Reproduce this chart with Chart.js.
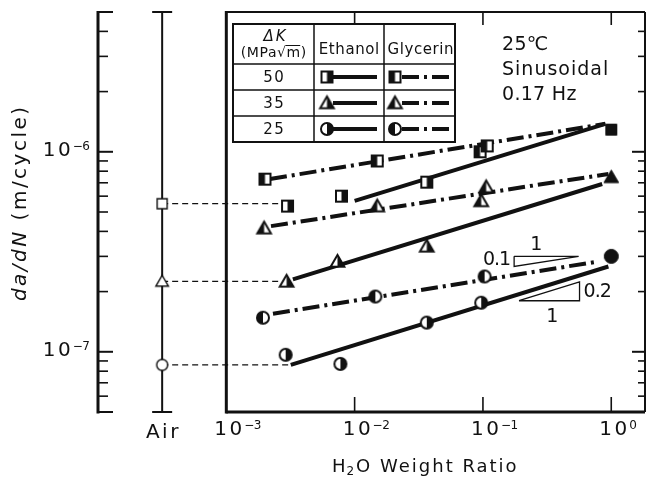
<!DOCTYPE html>
<html>
<head>
<meta charset="utf-8">
<script src="https://cdn.jsdelivr.net/npm/chart.js@4.4.1/dist/chart.umd.min.js"></script>
<style>
  html, body { margin: 0; padding: 0; overflow: hidden; background: #fff; }
  canvas { display: block; }
</style>
</head>
<body>
<canvas id="c" width="652" height="477" style="width:652px;height:477px"></canvas>
<script>
// ---- axis ticks -------------------------------------------------------
const xTickValues = [1e-3, 1e-2, 1e-1, 1e0];
const xTickExponents = ['−3', '−2', '−1', '0'];
const airPosition = Math.pow(10, -3.5);          // column for the reference test in air
const airLabel = 'Air';
const yMajorValues = [1e-6, 1e-7];
const yMajorExponents = ['−6', '−7'];
const yMinorValues = [6e-8, 7e-8, 8e-8, 9e-8, 2e-7, 3e-7, 4e-7, 5e-7, 6e-7, 7e-7, 8e-7, 9e-7, 2e-6, 3e-6, 4e-6];
const yEnds = [5e-8, 5e-6];

// ---- measured crack growth rates (m/cycle) vs H2O weight ratio ---------
const deltaKLabels = ['50', '35', '25'];
const markerShapes = ['square', 'triangle', 'circle'];

const ethanol50X = [3.0e-3, 7.9e-3, 3.65e-2];
const ethanol50Y = [5.35e-7, 6.0e-7, 7.05e-7];
const glycerin50X = [2.0e-3, 1.5e-2, 9.5e-2, 1.08e-1];
const glycerin50Y = [7.3e-7, 9.0e-7, 1.0e-6, 1.07e-6];

const ethanol35X = [2.95e-3, 7.35e-3, 3.65e-2];
const ethanol35Y = [2.25e-7, 2.83e-7, 3.37e-7];
const glycerin35X = [1.97e-3, 1.5e-2, 1.06e-1, 9.7e-2];
const glycerin35Y = [4.15e-7, 5.35e-7, 6.67e-7, 5.68e-7];

const ethanol25X = [2.9e-3, 7.75e-3, 3.65e-2, 9.7e-2];
const ethanol25Y = [9.66e-8, 8.7e-8, 1.4e-7, 1.76e-7];
const glycerin25X = [1.93e-3, 1.45e-2, 1.03e-1];
const glycerin25Y = [1.48e-7, 1.89e-7, 2.38e-7];

// pure water (ratio = 1), common end point of both solvents
const waterX = [1, 1, 1];
const waterY = [1.29e-6, 7.48e-7, 3.0e-7];

// tests in air, linked to the low-water end of the ethanol series
const airY = [5.5e-7, 2.25e-7, 8.6e-8];
const airLinkEndX = [2.7e-3, 2.7e-3, 3.18e-3];

// fitted lines (start / end), slope ~0.2 for ethanol and ~0.1 for glycerin
const ethanolFitX = [[1.0e-2, 0.90], [3.3e-3, 0.85], [3.18e-3, 0.95]];
const ethanolFitY = [[5.68e-7, 1.38e-6], [2.3e-7, 6.9e-7], [8.6e-8, 2.67e-7]];
const glycerinFitX = [[2.19e-3, 0.90], [2.23e-3, 0.95], [2.31e-3, 0.795]];
const glycerinFitY = [[7.31e-7, 1.38e-6], [4.25e-7, 7.75e-7], [1.55e-7, 2.83e-7]];

// slope guide triangles: slope, left x, right x, reference y
const slopeValues = [0.1, 0.2];
const slopeLeftX = [0.175, 0.191];
const slopeRightX = [0.557, 0.566];
const slopeBaseY = [3.0e-7, 1.8e-7];

const conditions = ['25℃', 'Sinusoidal', '0.17 Hz'];

// ---- drawing helpers ----------------------------------------------------
const INK = '#111';
const FONT = '"DejaVu Sans", "Liberation Sans", sans-serif';
const GLY_DASH = [17, 5, 3, 5];

function pts(xs, ys) { return xs.map((x, i) => ({ x, y: ys[i] })); }

function makeMarker(shape, fill, size, lw) {
  const c = document.createElement('canvas');
  const S = Math.ceil(size + lw + 4);
  c.width = c.height = S;
  const g = c.getContext('2d');
  const cx = S / 2, cy = S / 2, h = size / 2;
  g.lineWidth = lw; g.strokeStyle = INK; g.lineJoin = 'miter';
  g.beginPath();
  if (shape === 'square') g.rect(cx - h, cy - h, size, size);
  else if (shape === 'circle') g.arc(cx, cy, h, 0, Math.PI * 2);
  else { g.moveTo(cx, cy - h); g.lineTo(cx + h * 1.05, cy + h * 0.8); g.lineTo(cx - h * 1.05, cy + h * 0.8); g.closePath(); }
  g.fillStyle = '#fff'; g.fill();
  g.fillStyle = INK;
  if (fill === 'full') g.fill();
  else if (fill === 'left' || fill === 'right') {
    g.save(); g.clip();
    g.fillRect(fill === 'left' ? 0 : cx, 0, cx, S);
    g.restore();
  }
  g.stroke();
  return c;
}

const SIZES = { square: 11, triangle: 13, circle: 12 };
const FULL = { square: 11, triangle: 14, circle: 14 };
const ethanolMarkers = markerShapes.map(s => makeMarker(s, 'right', SIZES[s], 2));
const glycerinMarkers = markerShapes.map(s => makeMarker(s, 'left', SIZES[s], 2));
const waterMarkers = markerShapes.map(s => makeMarker(s, 'full', FULL[s], 1));
const airMarkers = markerShapes.map(s => makeMarker(s, 'none', SIZES[s] - 1, 1.4));

function put(ctx, s, x, y, size, o = {}) {
  ctx.save();
  ctx.font = `${o.italic ? 'italic ' : ''}${size}px ${FONT}`;
  ctx.letterSpacing = `${o.sp || 0}px`;
  ctx.textBaseline = 'middle';
  ctx.textAlign = 'left';
  ctx.fillStyle = INK;
  const w = ctx.measureText(s).width - (o.sp || 0);
  const left = o.align === 'center' ? x - w / 2 : o.align === 'right' ? x - w : x;
  if (!o.measureOnly) ctx.fillText(s, left, y);
  ctx.restore();
  return w;
}
function measure(ctx, s, size, o = {}) { return put(ctx, s, 0, 0, size, Object.assign({}, o, { measureOnly: true })); }

function powerLabel(ctx, exp, x, y, align) {
  const wb = measure(ctx, '10', 20, { sp: 2.5 });
  const we = measure(ctx, exp, 12, { sp: -0.5 });
  const left = align === 'center' ? x - wb / 2 : x - wb - 2 - we;
  put(ctx, '10', left, y, 20, { sp: 2.5 });
  put(ctx, exp, left + wb + 2, y - 4, 12, { sp: -0.5 });
}

function seg(ctx, x1, y1, x2, y2, w) {
  ctx.lineWidth = w;
  ctx.beginPath(); ctx.moveTo(x1, y1); ctx.lineTo(x2, y2); ctx.stroke();
}

// ---- datasets -----------------------------------------------------------
const datasets = [];
const lineBase = { showLine: true, pointRadius: 0, borderColor: INK, fill: false, order: 3 };
for (let i = 0; i < 3; i++) {
  datasets.push(Object.assign({ label: `Ethanol fit ${deltaKLabels[i]}`, data: pts(ethanolFitX[i], ethanolFitY[i]), borderWidth: 4 }, lineBase));
  datasets.push(Object.assign({ label: `Glycerin fit ${deltaKLabels[i]}`, data: pts(glycerinFitX[i], glycerinFitY[i]), borderWidth: 4, borderDash: GLY_DASH }, lineBase));
  datasets.push(Object.assign({ label: `Air link ${deltaKLabels[i]}`, data: pts([airPosition, airLinkEndX[i]], [airY[i], airY[i]]), borderWidth: 1.2, borderDash: [6, 4] }, lineBase));
}
for (let i = 0; i < 2; i++) {
  const yFar = slopeBaseY[i] * Math.pow(slopeRightX[i] / slopeLeftX[i], slopeValues[i]);
  const tri = i === 0
    ? pts([slopeLeftX[i], slopeRightX[i], slopeLeftX[i], slopeLeftX[i]], [slopeBaseY[i], slopeBaseY[i], slopeBaseY[i] / Math.pow(slopeRightX[i] / slopeLeftX[i], slopeValues[i]), slopeBaseY[i]])
    : pts([slopeLeftX[i], slopeRightX[i], slopeRightX[i], slopeLeftX[i]], [slopeBaseY[i], slopeBaseY[i], yFar, slopeBaseY[i]]);
  datasets.push(Object.assign({ label: `Slope ${slopeValues[i]}`, data: tri, borderWidth: 1.3, borderJoinStyle: 'miter' }, lineBase));
}
const markerBase = { showLine: false, pointRadius: 6, order: 1 };
const ethX = [ethanol50X, ethanol35X, ethanol25X], ethY = [ethanol50Y, ethanol35Y, ethanol25Y];
const glyX = [glycerin50X, glycerin35X, glycerin25X], glyY = [glycerin50Y, glycerin35Y, glycerin25Y];
for (let i = 0; i < 3; i++) {
  datasets.push(Object.assign({ label: `Ethanol ${deltaKLabels[i]}`, data: pts(ethX[i], ethY[i]), pointStyle: ethanolMarkers[i] }, markerBase));
  datasets.push(Object.assign({ label: `Glycerin ${deltaKLabels[i]}`, data: pts(glyX[i], glyY[i]), pointStyle: glycerinMarkers[i] }, markerBase));
  datasets.push(Object.assign({ label: `Water ${deltaKLabels[i]}`, data: pts([waterX[i]], [waterY[i]]), pointStyle: waterMarkers[i] }, markerBase));
  datasets.push(Object.assign({ label: `Air ${deltaKLabels[i]}`, data: pts([airPosition], [airY[i]]), pointStyle: airMarkers[i] }, markerBase));
}

// ---- frame, axes, labels and key ----------------------------------------
const figure = {
  id: 'figure',
  beforeDatasetsDraw(chart) {
    const { ctx, chartArea: a, scales: { x, y } } = chart;
    const x0 = x.getPixelForValue(xTickValues[0]);
    const xAir = x.getPixelForValue(airPosition);
    ctx.save();
    ctx.strokeStyle = INK; ctx.lineCap = 'butt';
    // plot frame
    seg(ctx, x0, a.top - 1, x0, a.bottom + 1.5, 3);
    seg(ctx, x0, a.top, a.right, a.top, 2);
    seg(ctx, x0, a.bottom, a.right, a.bottom, 3);
    seg(ctx, a.right, a.top, a.right, a.bottom, 2);
    // outer rate scale
    seg(ctx, a.left, a.top - 1, a.left, a.bottom + 1.5, 3);
    yEnds.forEach(v => { const p = y.getPixelForValue(v); seg(ctx, a.left, p, a.left + 15, p, 2); });
    yMajorValues.forEach(v => {
      const p = y.getPixelForValue(v);
      seg(ctx, a.left, p, a.left + 15, p, 2);
      seg(ctx, a.right, p, a.right - 13, p, 2);
    });
    yMinorValues.forEach(v => {
      const p = y.getPixelForValue(v);
      seg(ctx, a.left, p, a.left + 10, p, 1.6);
      seg(ctx, a.right, p, a.right - 7, p, 1.6);
    });
    // air column
    seg(ctx, xAir, a.top, xAir, a.bottom, 2);
    seg(ctx, xAir - 10, a.top, xAir + 10, a.top, 2);
    seg(ctx, xAir - 10, a.bottom, xAir + 10, a.bottom, 2);
    // ratio ticks
    xTickValues.slice(1).forEach(v => {
      const p = x.getPixelForValue(v);
      seg(ctx, p, a.top, p, a.top + 13, 1.6);
      seg(ctx, p, a.bottom, p, a.bottom - 15, 1.6);
    });
    ctx.restore();
  },
  afterDatasetsDraw(chart) {
    const { ctx, chartArea: a, scales: { x, y } } = chart;
    ctx.save();
    ctx.strokeStyle = INK;
    // tick labels
    xTickValues.forEach((v, i) => powerLabel(ctx, xTickExponents[i], x.getPixelForValue(v) + 2, a.bottom + 18, 'center'));
    put(ctx, airLabel, x.getPixelForValue(airPosition), a.bottom + 21, 20, { sp: 2.5, align: 'center' });
    yMajorValues.forEach((v, i) => powerLabel(ctx, yMajorExponents[i], a.left - 8, y.getPixelForValue(v) - 1, 'right'));

    // axis titles
    const cx = (x.getPixelForValue(xTickValues[0]) + x.getPixelForValue(1)) / 2 + 6;
    const ty = a.bottom + 55;
    const wH = measure(ctx, 'H', 18, { sp: 2 });
    const w2 = measure(ctx, '2', 12, { sp: 1 });
    const wR = measure(ctx, 'O Weight Ratio', 18, { sp: 2 });
    let sx = cx - (wH + w2 + wR + 4) / 2;
    put(ctx, 'H', sx, ty, 18, { sp: 2 });
    put(ctx, '2', sx + wH + 1, ty + 5, 12, { sp: 1 });
    put(ctx, 'O Weight Ratio', sx + wH + w2 + 3, ty, 18, { sp: 2 });

    ctx.save();
    ctx.translate(21, (a.top + a.bottom) / 2 - 8);
    ctx.rotate(-Math.PI / 2);
    const wd = measure(ctx, 'da/dN', 20, { italic: true, sp: 2.5 });
    const wm = measure(ctx, ' (m/cycle)', 20, { sp: 2.5 });
    const st = -(wd + wm + 2.5) / 2;
    put(ctx, 'da/dN', st, 0, 20, { italic: true, sp: 2.5 });
    put(ctx, ' (m/cycle)', st + wd + 2.5, 0, 20, { sp: 2.5 });
    ctx.restore();

    // slope guide labels
    for (let i = 0; i < 2; i++) {
      const xl = x.getPixelForValue(slopeLeftX[i]), xr = x.getPixelForValue(slopeRightX[i]);
      const yb = y.getPixelForValue(slopeBaseY[i]);
      const lab = slopeValues[i].toString();
      if (i === 0) {
        const ylo = y.getPixelForValue(slopeBaseY[i] / Math.pow(slopeRightX[i] / slopeLeftX[i], slopeValues[i]));
        put(ctx, '1', (xl + xr) / 2 - 10, yb - 11, 19, { align: 'center' });
        put(ctx, lab, xl - 3, (yb + ylo) / 2 - 1, 19, { align: 'right', sp: -1 });
      } else {
        const yhi = y.getPixelForValue(slopeBaseY[i] * Math.pow(slopeRightX[i] / slopeLeftX[i], slopeValues[i]));
        put(ctx, lab, xr + 4, (yb + yhi) / 2 + 1, 19, { sp: -1 });
        put(ctx, '1', (xl + xr) / 2 + 3, yb + 16, 19, { align: 'center' });
      }
    }

    // test conditions
    conditions.forEach((s, i) => put(ctx, s, 502, 45 + i * 25, 19, { sp: i === 1 ? 1 : 0.3 }));

    // key table
    const T = { l: 233, r: 455, t: 24, b: 142, c1: 314, c2: 384, rows: [64, 90, 116] };
    ctx.lineWidth = 2;
    ctx.strokeRect(T.l, T.t, T.r - T.l, T.b - T.t);
    seg(ctx, T.c1, T.t, T.c1, T.b, 1.5);
    seg(ctx, T.c2, T.t, T.c2, T.b, 1.5);
    T.rows.forEach(r => seg(ctx, T.l, r, T.r, r, 1.5));
    const kx = (T.l + T.c1) / 2;
    put(ctx, 'ΔK', kx + 1, 37, 15, { italic: true, sp: 2, align: 'center' });
    // (MPa√m) with the radical bar over m
    const unitParts = ['(MPa', '√', 'm', ')'];
    const uw = unitParts.map(s => measure(ctx, s, 14, { sp: 0.6 }));
    let ux = kx - (uw.reduce((p, q) => p + q, 0) + 1.8) / 2;
    unitParts.forEach((s, i) => {
      put(ctx, s, ux, 53, 14, { sp: 0.6 });
      if (s === 'm') seg(ctx, ux - 1, 45.5, ux + uw[i], 45.5, 1);
      ux += uw[i] + 0.6;
    });
    put(ctx, 'Ethanol', (T.c1 + T.c2) / 2, 50, 15, { sp: 0.6, align: 'center' });
    put(ctx, 'Glycerin', (T.c2 + T.r) / 2 + 1, 50, 15, { sp: 0.6, align: 'center' });
    const rowEdges = [...T.rows, T.b];
    for (let i = 0; i < 3; i++) {
      const cy = (rowEdges[i] + rowEdges[i + 1]) / 2;
      put(ctx, deltaKLabels[i], kx, cy + 1, 15, { sp: 1.5, align: 'center' });
      ctx.lineCap = 'butt';
      seg(ctx, T.c1 + 19, cy, T.c2 - 7, cy, 4);
      const m1 = ethanolMarkers[i];
      ctx.drawImage(m1, T.c1 + 13 - m1.width / 2, cy - m1.height / 2);
      ctx.setLineDash(GLY_DASH);
      seg(ctx, T.c2 + 18, cy, T.r - 3, cy, 4);
      ctx.setLineDash([]);
      const m2 = glycerinMarkers[i];
      ctx.drawImage(m2, T.c2 + 11 - m2.width / 2, cy - m2.height / 2);
    }
    ctx.restore();
  }
};

new Chart(document.getElementById('c'), {
  type: 'scatter',
  data: { datasets },
  options: {
    responsive: false,
    animation: false,
    devicePixelRatio: 1,
    layout: { padding: { left: 98, right: 2, top: 12, bottom: 65 } },
    plugins: { legend: { display: false }, tooltip: { enabled: false } },
    scales: {
      x: { type: 'logarithmic', min: 1e-4, max: Math.pow(10, 0.263), display: false },
      y: { type: 'logarithmic', min: yEnds[0], max: yEnds[1], display: false }
    }
  },
  plugins: [figure]
});
</script>
</body>
</html>
